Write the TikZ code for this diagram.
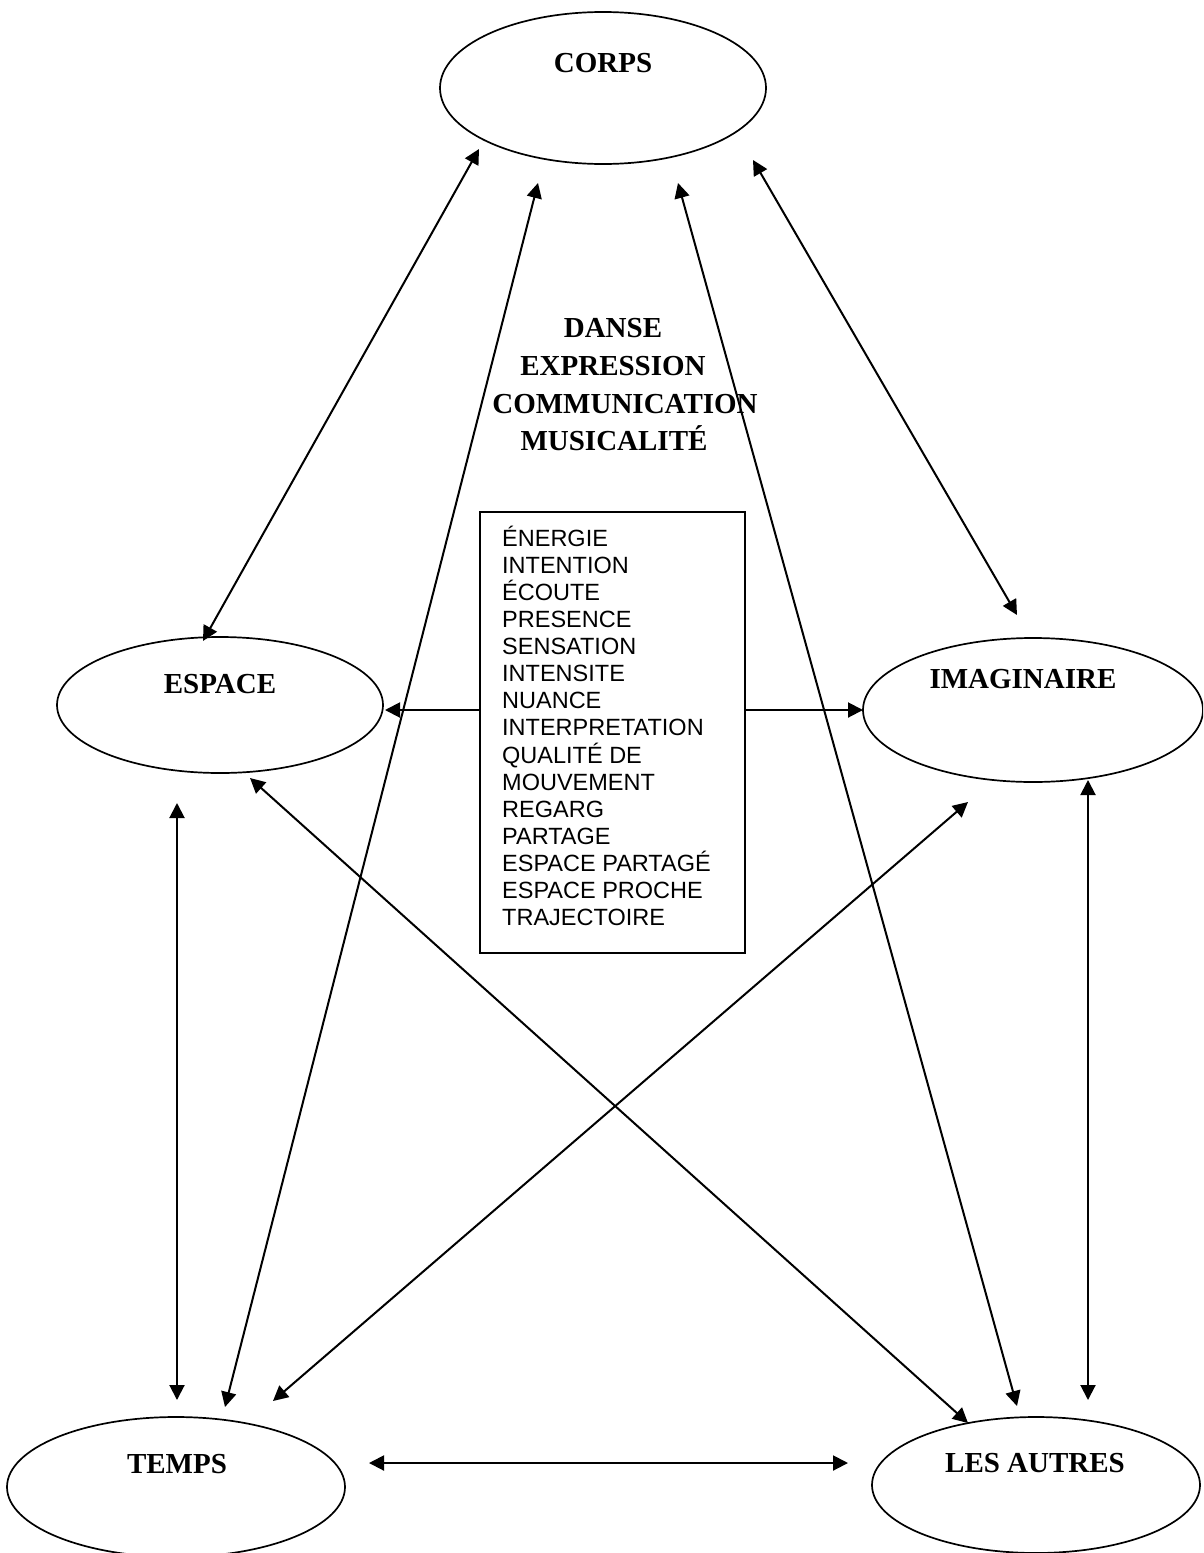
\documentclass[tikz,border=0pt]{standalone}
\usepackage{fontspec}
\setmainfont{Liberation Serif}
\newfontfamily\boxfont{Liberation Sans}
\usetikzlibrary{shapes.geometric,arrows.meta}
\begin{document}
\begin{tikzpicture}[x=1pt,y=-1pt,
  oval/.style={draw,ellipse,line width=1.7pt,inner sep=0pt},
  lbl/.style={font=\fontsize{29}{38}\selectfont\bfseries,anchor=base,inner sep=0pt},
  item/.style={font=\boxfont\fontsize{23.5}{27}\selectfont,anchor=base west,inner sep=0pt},
  tip/.tip={Triangle[length=15pt,width=15pt]},
  link/.style={line width=2pt,tip-tip},
  onelink/.style={line width=2pt,-tip}]
\useasboundingbox (0,0) rectangle (1203,1553);
\clip (0,0) rectangle (1203,1553);
\fill[white] (0,0) rectangle (1203,1553);

% ellipses
\node[oval,minimum width=326pt,minimum height=152pt] (corps) at (603,88) {};
\node[oval,minimum width=326pt,minimum height=136pt] (espace) at (220,705) {};
\node[oval,minimum width=340pt,minimum height=144pt] (imag) at (1033,710) {};
\node[oval,minimum width=338pt,minimum height=140pt] (temps) at (176,1487) {};
\node[oval,minimum width=328pt,minimum height=136pt] (autres) at (1036,1485) {};

\node[lbl] (tcorps) at (603,72) {CORPS};
\node[lbl] (tespace) at (220,693) {ESPACE};
\node[lbl] (timag) at (1023,688) {IMAGINAIRE};
\node[lbl] (ttemps) at (177,1473) {TEMPS};
\node[lbl] (tautres) at (1035,1472) {LES AUTRES};

% central title
\node[lbl] (d1) at (613,337) {DANSE};
\node[lbl] (d2) at (613,375) {EXPRESSION};
\node[lbl] (d3) at (625,413) {COMMUNICATION};
\node[lbl] (d4) at (614,450) {MUSICALITÉ};

% box
\node[draw,line width=1.7pt,minimum width=265pt,minimum height=441pt,inner sep=0pt] (box) at (612.5,732.5) {};
\foreach \t [count=\i] in {ÉNERGIE,INTENTION,ÉCOUTE,PRESENCE,SENSATION,INTENSITE,NUANCE,INTERPRETATION,QUALITÉ DE,MOUVEMENT,REGARG,PARTAGE,ESPACE PARTAGÉ,ESPACE PROCHE,TRAJECTOIRE}
  \node[item] (w\i) at (502,{546+27.14*(\i-1)}) {\t};

% arrow end points
\coordinate (c1) at (479,149);  \coordinate (e1) at (203,641);
\coordinate (c2) at (538,183);  \coordinate (t2) at (225,1407);
\coordinate (c3) at (678,183);  \coordinate (a3) at (1017,1406);
\coordinate (c4) at (753,160);  \coordinate (i4) at (1017,615);
\coordinate (e5) at (177,803);  \coordinate (t5) at (177,1400);
\coordinate (e6) at (250,778);  \coordinate (a6) at (968,1423);
\coordinate (i7) at (968,802);  \coordinate (t7) at (273,1401);
\coordinate (i8) at (1088,780); \coordinate (a8) at (1088,1400);
\coordinate (t9) at (369,1463); \coordinate (a9) at (848,1463);
\coordinate (bl) at (480,710);  \coordinate (eb) at (385,710);
\coordinate (br) at (745,710);  \coordinate (ib) at (863,710);

\draw[link] (c1) -- (e1);
\draw[link] (c2) -- (t2);
\draw[link] (c3) -- (a3);
\draw[link] (c4) -- (i4);
\draw[link] (e5) -- (t5);
\draw[link] (e6) -- (a6);
\draw[link] (i7) -- (t7);
\draw[link] (i8) -- (a8);
\draw[link] (t9) -- (a9);
\draw[onelink] (bl) -- (eb);
\draw[onelink] (br) -- (ib);
\end{tikzpicture}
\end{document}
